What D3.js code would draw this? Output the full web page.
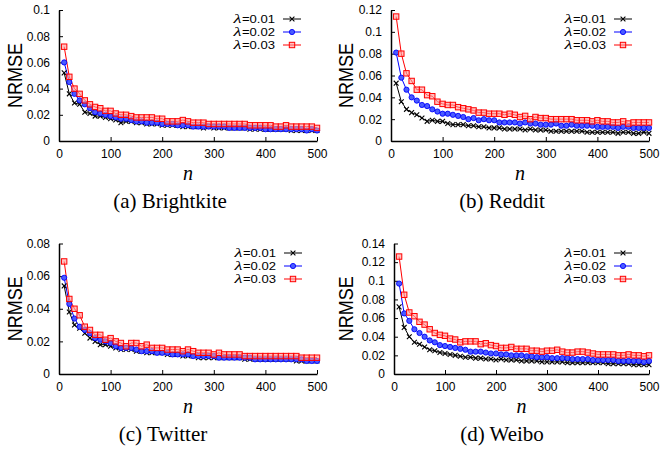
<!DOCTYPE html>
<html><head><meta charset="utf-8">
<script src="https://cdn.jsdelivr.net/npm/d3@7/dist/d3.min.js"></script>
<style>body{margin:0;background:#fff}svg{display:block}</style>
</head><body><svg id="chart" width="661" height="455"></svg>
<script>
// ---------- data ----------
const nValues = [10,20,30,40,50,60,70,80,90,100,110,120,130,140,150,160,170,180,190,200,
  210,220,230,240,250,260,270,280,290,300,310,320,330,340,350,360,370,380,390,400,
  410,420,430,440,450,460,470,480,490,500];
const seriesLambda = ["0.01","0.02","0.03"];
const xTickValues = [0,100,200,300,400,500];
const captions = ["(a) Brightkite","(b) Reddit","(c) Twitter","(d) Weibo"];

const yTicksBrightkite = [0,0.02,0.04,0.06,0.08,0.1];
const yTicksReddit = [0,0.02,0.04,0.06,0.08,0.1,0.12];
const yTicksTwitter = [0,0.02,0.04,0.06,0.08];
const yTicksWeibo = [0,0.02,0.04,0.06,0.08,0.1,0.12,0.14];

const brightkite001 = [0.052,0.036,0.029,0.028,0.022,0.021,0.019,0.019,0.018,0.017,0.016,0.014,0.015,0.015,0.014,0.014,0.013,0.013,0.013,0.012,0.012,0.012,0.012,0.011,0.011,0.011,0.011,0.010,0.011,0.010,0.010,0.010,0.010,0.010,0.010,0.010,0.009,0.009,0.009,0.009,0.009,0.009,0.009,0.009,0.008,0.008,0.008,0.008,0.008,0.008];
const brightkite002 = [0.060,0.045,0.036,0.031,0.028,0.025,0.022,0.021,0.020,0.019,0.018,0.017,0.017,0.016,0.015,0.015,0.014,0.014,0.014,0.013,0.013,0.013,0.012,0.012,0.012,0.011,0.011,0.011,0.011,0.011,0.011,0.011,0.010,0.010,0.010,0.010,0.010,0.010,0.010,0.009,0.009,0.009,0.009,0.009,0.009,0.009,0.009,0.008,0.009,0.008];
const brightkite003 = [0.072,0.049,0.040,0.036,0.031,0.028,0.026,0.025,0.023,0.023,0.021,0.020,0.020,0.019,0.018,0.018,0.018,0.018,0.017,0.017,0.015,0.015,0.015,0.016,0.015,0.014,0.014,0.014,0.013,0.013,0.013,0.013,0.013,0.013,0.013,0.013,0.012,0.012,0.012,0.012,0.012,0.011,0.011,0.012,0.011,0.011,0.011,0.011,0.011,0.010];

const reddit001 = [0.053,0.036,0.029,0.026,0.024,0.021,0.018,0.019,0.018,0.018,0.016,0.015,0.015,0.015,0.014,0.014,0.013,0.013,0.012,0.012,0.012,0.011,0.011,0.011,0.011,0.010,0.011,0.010,0.010,0.010,0.009,0.009,0.009,0.009,0.009,0.009,0.009,0.008,0.008,0.008,0.008,0.008,0.008,0.007,0.008,0.008,0.007,0.007,0.008,0.007];
const reddit002 = [0.081,0.058,0.047,0.040,0.037,0.033,0.032,0.029,0.027,0.025,0.025,0.024,0.023,0.022,0.020,0.021,0.019,0.020,0.019,0.019,0.017,0.017,0.017,0.017,0.016,0.017,0.016,0.016,0.015,0.015,0.015,0.016,0.014,0.014,0.015,0.014,0.014,0.014,0.014,0.013,0.013,0.013,0.013,0.012,0.013,0.013,0.012,0.012,0.012,0.012];
const reddit003 = [0.114,0.080,0.062,0.055,0.047,0.047,0.042,0.041,0.036,0.034,0.033,0.033,0.031,0.030,0.029,0.028,0.026,0.026,0.025,0.025,0.025,0.024,0.025,0.024,0.022,0.023,0.020,0.022,0.021,0.021,0.020,0.020,0.020,0.020,0.020,0.019,0.019,0.019,0.018,0.019,0.018,0.018,0.017,0.017,0.018,0.016,0.017,0.017,0.017,0.017];

const twitter001 = [0.054,0.038,0.030,0.028,0.025,0.022,0.020,0.018,0.018,0.017,0.016,0.015,0.015,0.015,0.014,0.014,0.013,0.013,0.013,0.013,0.012,0.012,0.012,0.011,0.011,0.011,0.010,0.010,0.010,0.010,0.010,0.010,0.010,0.010,0.010,0.009,0.009,0.009,0.009,0.009,0.009,0.009,0.009,0.009,0.009,0.008,0.008,0.008,0.008,0.008];
const twitter002 = [0.059,0.043,0.034,0.029,0.027,0.025,0.022,0.021,0.020,0.019,0.017,0.016,0.016,0.016,0.015,0.014,0.014,0.014,0.013,0.013,0.013,0.012,0.012,0.012,0.012,0.011,0.011,0.011,0.011,0.011,0.010,0.010,0.010,0.010,0.010,0.010,0.010,0.009,0.009,0.009,0.009,0.009,0.009,0.009,0.009,0.009,0.009,0.008,0.008,0.008];
const twitter003 = [0.069,0.046,0.040,0.036,0.029,0.027,0.024,0.024,0.021,0.022,0.020,0.019,0.017,0.019,0.019,0.017,0.018,0.016,0.016,0.016,0.015,0.015,0.015,0.014,0.015,0.014,0.013,0.013,0.013,0.012,0.013,0.012,0.012,0.012,0.012,0.011,0.011,0.011,0.011,0.011,0.011,0.011,0.011,0.011,0.011,0.011,0.010,0.010,0.010,0.010];

const weibo001 = [0.072,0.050,0.040,0.034,0.032,0.029,0.026,0.025,0.023,0.022,0.021,0.020,0.019,0.018,0.018,0.017,0.017,0.016,0.016,0.015,0.016,0.015,0.015,0.015,0.014,0.014,0.014,0.014,0.013,0.013,0.013,0.013,0.013,0.012,0.012,0.012,0.012,0.012,0.012,0.012,0.012,0.011,0.011,0.011,0.011,0.011,0.010,0.010,0.010,0.010];
const weibo002 = [0.097,0.065,0.057,0.048,0.044,0.040,0.036,0.034,0.031,0.030,0.029,0.028,0.027,0.026,0.024,0.024,0.024,0.023,0.022,0.022,0.021,0.021,0.020,0.020,0.020,0.019,0.019,0.018,0.018,0.018,0.017,0.017,0.017,0.017,0.016,0.016,0.016,0.016,0.015,0.015,0.015,0.015,0.015,0.014,0.014,0.014,0.014,0.014,0.013,0.014];
const weibo003 = [0.126,0.085,0.066,0.062,0.056,0.053,0.048,0.044,0.042,0.041,0.038,0.037,0.034,0.035,0.035,0.035,0.032,0.033,0.031,0.030,0.028,0.028,0.029,0.027,0.027,0.027,0.025,0.025,0.024,0.025,0.025,0.026,0.024,0.023,0.023,0.024,0.024,0.023,0.022,0.021,0.021,0.021,0.021,0.020,0.020,0.021,0.020,0.020,0.019,0.020];

// ---------- layout ----------
const panels = [
  {caption: captions[0], series:[brightkite001,brightkite002,brightkite003], yTicks: yTicksBrightkite,
   x0:59, x1:317, y0:141, y1:10, capX:170, capY:208, ylabX:22, legX:275, legY:19},
  {caption: captions[1], series:[reddit001,reddit002,reddit003], yTicks: yTicksReddit,
   x0:391, x1:649, y0:141, y1:10, capX:502, capY:208, ylabX:353, legX:606, legY:19},
  {caption: captions[2], series:[twitter001,twitter002,twitter003], yTicks: yTicksTwitter,
   x0:59, x1:317, y0:374, y1:243.5, capX:163, capY:441, ylabX:22, legX:276, legY:253},
  {caption: captions[3], series:[weibo001,weibo002,weibo003], yTicks: yTicksWeibo,
   x0:394, x1:649, y0:374, y1:243.5, capX:502, capY:441, ylabX:353, legX:606, legY:253}
];
const colors = ["#000000","#0000ff","#ff0000"];
const sans = "'Liberation Sans', Arial, Helvetica, sans-serif";
const serif = "'Liberation Serif', 'Times New Roman', serif";

const svg = d3.select("#chart");

function drawMarker(g, k, x, y) {
  if (k === 0) {
    const s = 2.4;
    g.append("path").attr("d", `M${x-s},${y-s}L${x+s},${y+s}M${x-s},${y+s}L${x+s},${y-s}`)
      .attr("stroke", colors[0]).attr("stroke-width", 1.1).attr("fill", "none");
  } else if (k === 1) {
    g.append("circle").attr("cx", x).attr("cy", y).attr("r", 2.6)
      .attr("fill", "#4a5cff").attr("stroke", colors[1]).attr("stroke-width", 0.9);
  } else {
    const s = 2.7;
    g.append("rect").attr("x", x-s).attr("y", y-s).attr("width", 2*s).attr("height", 2*s)
      .attr("fill", "#ff9a9a").attr("fill-opacity", 0.6).attr("stroke", colors[2]).attr("stroke-width", 1);
  }
}

panels.forEach(p => {
  const ymax = p.yTicks[p.yTicks.length-1];
  const x = d3.scaleLinear().domain([0,500]).range([p.x0, p.x1]);
  const y = d3.scaleLinear().domain([0,ymax]).range([p.y0, p.y1]);
  const g = svg.append("g");

  // axes
  const xa = g.append("g").attr("transform", `translate(0,${p.y0})`)
    .call(d3.axisBottom(x).tickValues(xTickValues).tickSizeInner(-4).tickSizeOuter(0).tickPadding(8).tickFormat(d3.format("d")));
  xa.select(".domain").attr("stroke-width", 1.5);
  xa.selectAll("text").attr("font-family", sans).attr("font-size", 12).attr("fill", "#000").attr("dy", "0.71em");
  const ya = g.append("g").attr("transform", `translate(${p.x0},0)`)
    .call(d3.axisLeft(y).tickValues(p.yTicks).tickSizeInner(-4).tickSizeOuter(0).tickPadding(9).tickFormat(d => d === 0 ? "0" : String(+d.toFixed(2))));
  ya.select(".domain").attr("stroke-width", 1.5);
  ya.selectAll("text").attr("font-family", sans).attr("font-size", 12).attr("fill", "#000");
  g.selectAll(".tick line").attr("stroke", "#000");

  // axis titles
  g.append("text").attr("x", (p.x0+p.x1)/2).attr("y", p.y0+39).attr("text-anchor", "middle")
    .attr("font-family", serif).attr("font-style", "italic").attr("font-size", 20).text("n");
  g.append("text").attr("transform", `translate(${p.ylabX},${(p.y0+p.y1)/2}) rotate(-90)`)
    .attr("text-anchor", "middle").attr("font-family", sans).attr("font-size", 20)
    .attr("textLength", 65).attr("lengthAdjust", "spacingAndGlyphs").text("NRMSE");
  g.append("text").attr("x", p.capX).attr("y", p.capY).attr("text-anchor", "middle")
    .attr("font-family", serif).attr("font-size", 21).text(p.caption);

  // series
  const line = d3.line().x((d,i) => x(nValues[i])).y(d => y(d));
  p.series.forEach((vals, k) => {
    g.append("path").datum(vals).attr("d", line).attr("fill", "none")
      .attr("stroke", colors[k]).attr("stroke-width", 1);
  });
  p.series.forEach((vals, k) => {
    const mg = g.append("g");
    vals.forEach((v, i) => drawMarker(mg, k, x(nValues[i]), y(v)));
  });

  // legend
  seriesLambda.forEach((val, k) => {
    const ly = p.legY + k*13;
    g.append("text").attr("x", p.legX).attr("y", ly).attr("dy", "0.36em")
      .attr("text-anchor", "end").attr("font-family", sans).attr("font-size", 11.6)
      .attr("textLength", 33).attr("lengthAdjust", "spacingAndGlyphs").text("=" + val);
    g.append("text").attr("x", p.legX - 33.5).attr("y", ly).attr("dy", "0.36em")
      .attr("text-anchor", "end").attr("font-family", serif).attr("font-style", "italic")
      .attr("font-size", 11.6).attr("textLength", 8).attr("lengthAdjust", "spacingAndGlyphs").text("λ");
    g.append("line").attr("x1", p.legX+8).attr("x2", p.legX+26).attr("y1", ly).attr("y2", ly)
      .attr("stroke", colors[k]).attr("stroke-width", 1);
    drawMarker(g, k, p.legX+17, ly);
  });
});
</script></body></html>
